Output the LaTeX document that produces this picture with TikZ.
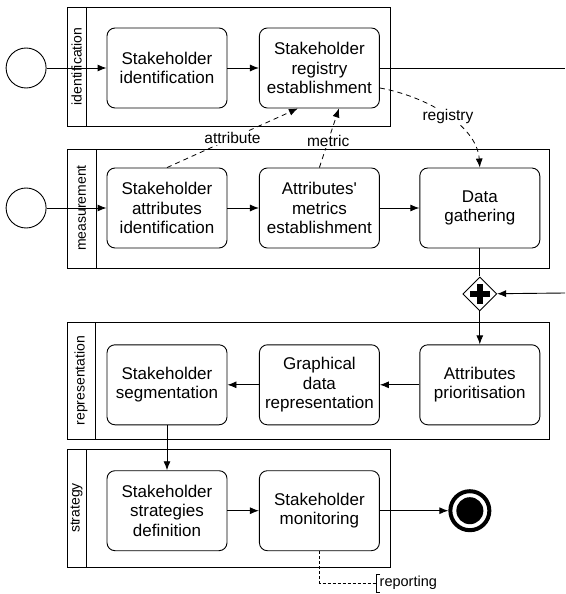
\documentclass[tikz,border=0pt]{standalone}
\usepackage{fontspec}
\setmainfont{Liberation Sans}
\usetikzlibrary{arrows.meta,%
                positioning,%
                shapes.geometric}

\begin{document}
\begin{tikzpicture}[>={Latex[length=9pt,width=7pt]}, x=1pt, y=-1pt]
  \tikzset{node distance = 31.5pt}
  \tikzset{task/.style = {draw, rounded corners=8pt, line width=0.9pt,
                          minimum width=120pt, minimum height=80pt,
                          align=center, font=\fontsize{17}{19.5}\selectfont}}
  \tikzset{startev/.style = {draw, circle, minimum size=40pt, line width=0.9pt}}
  \tikzset{pool/.style = {draw, line width=0.9pt}}
  \tikzset{lanename/.style = {rotate=90, font=\fontsize{14}{16}\selectfont}}
  \tikzset{flow/.style = {->, line width=0.9pt}}
  \tikzset{assoc/.style = {->, line width=0.8pt, dash pattern=on 5pt off 4pt}}
  \tikzset{tag/.style = {fill=white, inner sep=1.5pt, font=\fontsize{15.5}{17}\selectfont}}
  \useasboundingbox (0,0) rectangle (565,594);

  % lanes
  \draw[pool] (67,7) rectangle (390,126);
  \draw[pool] (86,7) -- (86,126);
  \node[lanename] (lid) at (76.5,66.5) {identification};
  \draw[pool] (67,149) rectangle (549,268);
  \draw[pool] (96,149) -- (96,268);
  \node[lanename] (lme) at (81.5,208) {measurement};
  \draw[pool] (67,322) rectangle (549,439);
  \draw[pool] (95,322) -- (95,439);
  \node[lanename] (lre) at (81,380.5) {representation};
  \draw[pool] (67,449) rectangle (390,567);
  \draw[pool] (86,449) -- (86,567);
  \node[lanename] (lst) at (76.5,508) {strategy};

  % tasks
  \node[task] (sid) at (167,68) {Stakeholder\\identification};
  \node[task, right=of sid] (reg) {Stakeholder\\registry\\establishment};
  \node[startev, left=60pt of sid] (s1) {};

  \node[task] (sai) at (167,208) {Stakeholder\\attributes\\identification};
  \node[task, right=of sai] (ame) {Attributes\textquotesingle\\metrics\\establishment};
  \node[task, right=39.5pt of ame] (dg) {Data\\gathering};
  \node[startev, left=60pt of sai] (s2) {};

  \node[draw, diamond, minimum size=34pt, inner sep=0pt, line width=0.9pt,
        below=28pt of dg] (gate) {};
  \draw[line width=6pt] ([xshift=-10pt]gate.center) -- ([xshift=10pt]gate.center);
  \draw[line width=6pt] ([yshift=-10pt]gate.center) -- ([yshift=10pt]gate.center);

  \node[task, below=33pt of gate] (ap) {Attributes\\prioritisation};
  \node[task, left=39.5pt of ap] (gdr) {Graphical\\data\\representation};
  \node[task, left=of gdr] (seg) {Stakeholder\\segmentation};

  \node[task, below=45pt of seg] (ssd) {Stakeholder\\strategies\\definition};
  \node[task, right=of ssd] (mon) {Stakeholder\\monitoring};
  \node[draw, circle, minimum size=39pt, line width=4pt,
        right=68.5pt of mon] (end) {};
  \node[circle, fill=black, minimum size=27pt, inner sep=0pt] (endin) at (end.center) {};

  \node[anchor=west, inner xsep=3.5pt, inner ysep=2pt,
        font=\fontsize{14.5}{16}\selectfont] (note) at (376,583) {reporting};

  \coordinate (out1) at (565,68);
  \coordinate (in1) at (565,293);

  % flows
  \draw[flow] (s1) -- (sid);
  \draw[flow] (sid) -- (reg);
  \draw[line width=0.9pt] (reg) -- (out1);
  \draw[flow] (s2) -- (sai);
  \draw[flow] (sai) -- (ame);
  \draw[flow] (ame) -- (dg);
  \draw[line width=0.9pt] (dg) -- (gate);
  \draw[flow] (in1) -- (gate);
  \draw[flow] (gate) -- (ap);
  \draw[flow] (ap) -- (gdr);
  \draw[flow] (gdr) -- (seg);
  \draw[flow] (seg) -- (ssd);
  \draw[flow] (ssd) -- (mon);
  \draw[flow] (mon) -- (end);

  % data
  \draw[assoc] (sai.north) -- node[tag] (lattr) {attribute} ([xshift=-21.5pt]reg.south);
  \draw[assoc] (ame.north) -- node[tag, pos=.45] (lmet) {metric} ([xshift=19.5pt]reg.south);
  \draw[assoc] ([yshift=-20pt]reg.east) .. controls (425,96) and (477,125)
        .. node[tag, pos=.52] (lreg) {registry} (dg.north);

  % annotation
  \draw[line width=0.8pt, dash pattern=on 3pt off 2pt] (mon.south) |- (note.west);
  \draw[line width=0.8pt] ([xshift=4pt]note.north west) -- (note.north west)
        -- (note.south west) -- ([xshift=4pt]note.south west);
\end{tikzpicture}
\end{document}
